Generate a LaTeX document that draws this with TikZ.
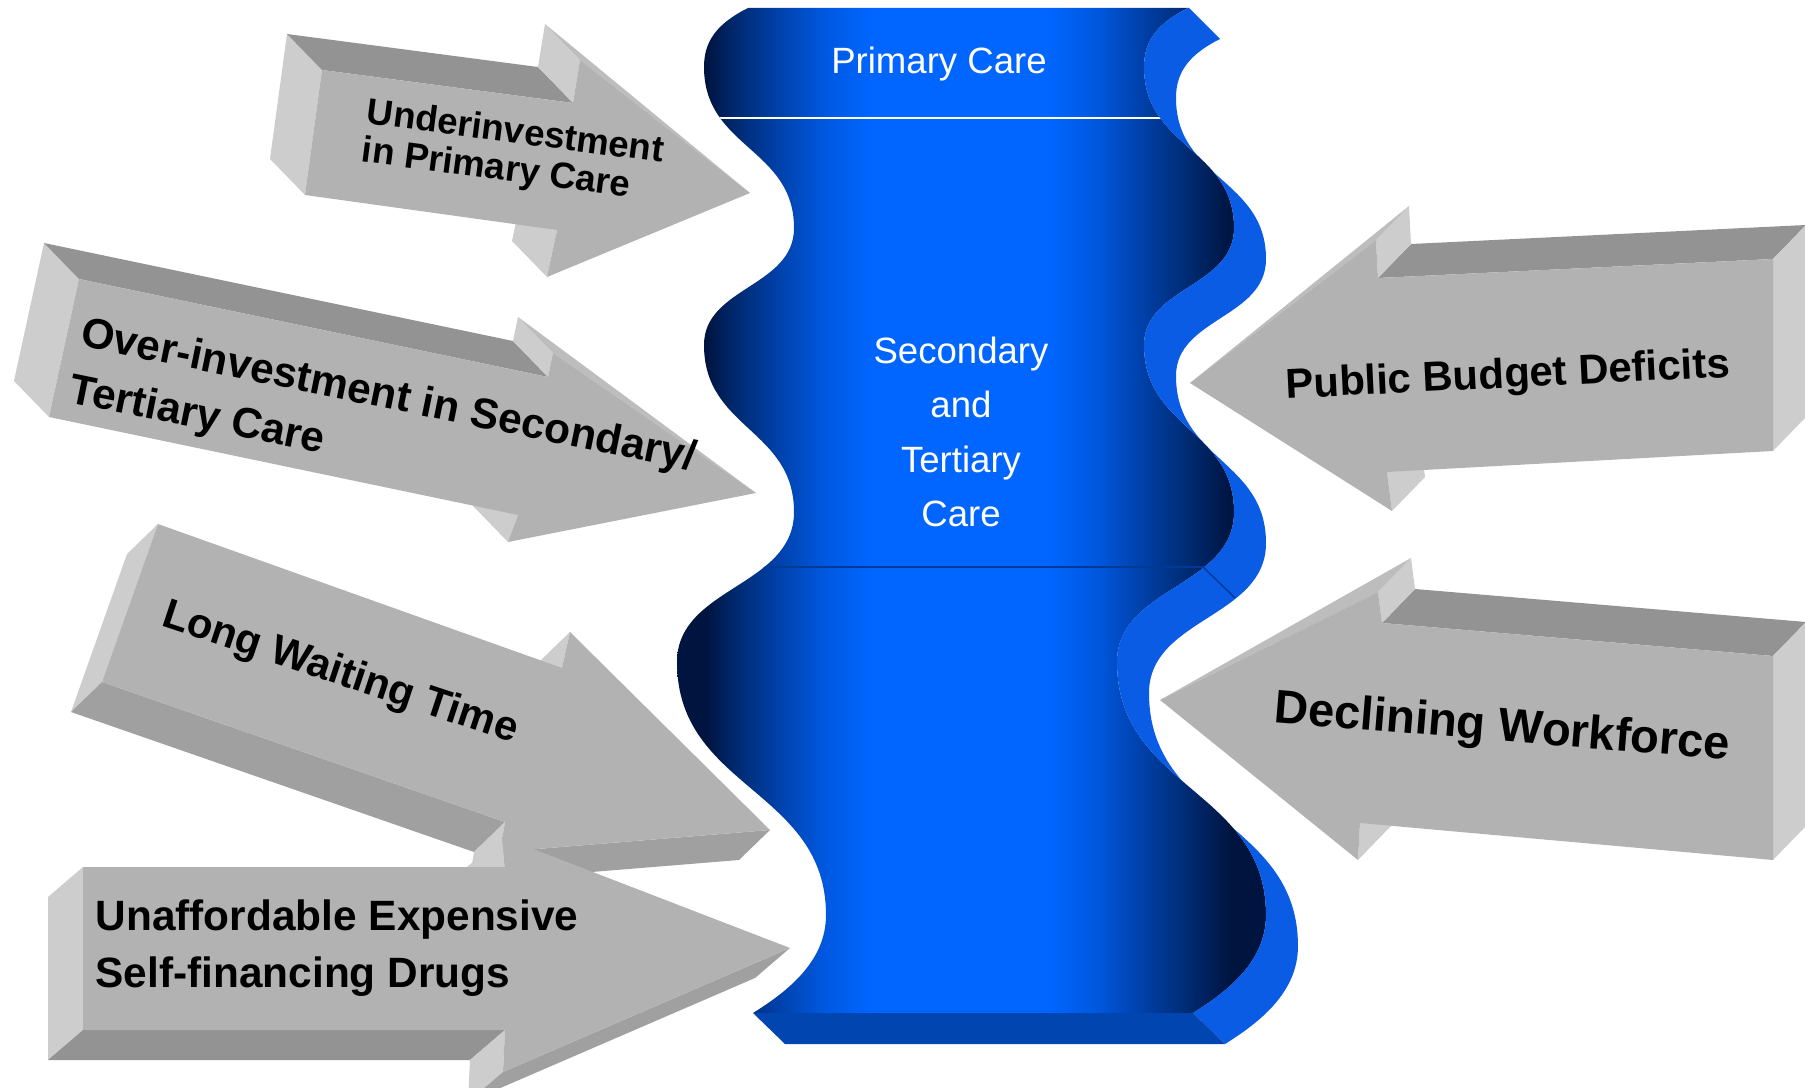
\documentclass[tikz,border=0pt]{standalone}
\usepackage{fontspec}
\setmainfont{Liberation Sans}
\usetikzlibrary{calc}
\definecolor{colbright}{HTML}{0066FF}
\definecolor{coldark}{HTML}{001440}
\definecolor{colmidA}{HTML}{002A70}
\definecolor{colmidB}{HTML}{0040A8}
\definecolor{colmidC}{HTML}{0058E0}
\definecolor{colside}{HTML}{0A5CE4}
\definecolor{colbase}{HTML}{0045B0}
\definecolor{arrowfront}{HTML}{B2B2B2}
\definecolor{arrowtop}{HTML}{939393}
\definecolor{arrowlight}{HTML}{CDCDCD}
\definecolor{arrowbottom}{HTML}{A0A0A0}
\definecolor{arrowbevel}{HTML}{BDBDBD}
\pgfdeclarehorizontalshading{colshade}{100bp}{color(0bp)=(coldark); color(25bp)=(coldark);
  color(27.5bp)=(coldark); color(30bp)=(colmidA); color(33.5bp)=(colmidB);
  color(37.5bp)=(colmidC); color(41.5bp)=(colbright); color(56.5bp)=(colbright);
  color(60.5bp)=(colmidC); color(64.5bp)=(colmidB); color(68.5bp)=(colmidA);
  color(72bp)=(coldark); color(100bp)=(coldark)}
\tikzset{coltext/.style = {text=white, inner sep=0pt,
                           font=\fontsize{10.4}{15.4}\selectfont}}
\tikzset{arrowtext/.style = {text=black, inner sep=0pt, align=left}}
\newcommand{\colwave}{(748, 8) .. controls (716, 24) and (704, 42) .. (704, 67)
  .. controls (704, 148) and (794, 148) .. (794, 228)
  .. controls (794, 287) and (704, 287) .. (704, 345)
  .. controls (704, 429) and (794, 429) .. (794, 512)
  .. controls (794, 587) and (677, 587) .. (677, 662)
  .. controls (677, 789) and (826, 789) .. (826, 915)
  .. controls (826, 960) and (790, 990) .. (753, 1013)}
\newcommand{\sideface}[4]{\fill [#4] (#1) -- (#2) -- ($(#2)+(#3)$) -- ($(#1)+(#3)$) -- cycle;}

\begin{document}
\begin{tikzpicture}[x=0.01cm, y=-0.01cm]
      \useasboundingbox (0, 0) rectangle (1805, 1088);

      % column, front face
      \begin{scope}
        \clip \colwave -- (2000, 1013) -- (2000, 8) -- cycle;
        \clip [shift={(440, 0)}] \colwave -- (-800, 1013) -- (-800, 8) -- cycle;
        \shade [shading=colshade] (677, 0) rectangle (1266, 1100);
        \draw [white, line width=0.6pt] (600, 118) -- (1300, 118);
        \draw [coldark!55!colbright, line width=0.4pt] (600, 567) -- (1300, 567);
      \end{scope}

      % column, side and base
      \begin{scope}
        \clip [shift={(440, 0)}] \colwave -- ++(32, 31) -- (2000, 1044) -- (2000, 8) -- cycle;
        \clip [shift={(472, 31)}] \colwave -- (-1000, 1013) -- (-1000, -192) -- (548, -192) -- cycle;
        \fill [colside] (1000, 0) rectangle (1400, 1100);
        \draw [coldark!55!colbright, line width=0.4pt] (1203, 567) -- (1235, 598);
      \end{scope}
      \fill [colbase] (753, 1013) -- (1193, 1013) -- (1225, 1044) -- (785, 1044) -- cycle;

      \node [coltext] (primary) at (939, 64) {Primary Care};
      \node [coltext, align=center] (secondary) at (961, 432) {Secondary\\and\\Tertiary\\Care};

      % Underinvestment
      \coordinate (u1) at (322, 70);
      \coordinate (u2) at (573, 103);
      \coordinate (u3) at (580, 60);
      \coordinate (u4) at (750, 193);
      \coordinate (u5) at (547, 277);
      \coordinate (u6) at (557, 230);
      \coordinate (u7) at (305, 195);
      \sideface{u7}{u1}{-35, -36}{arrowlight}
      \sideface{u1}{u2}{-35, -36}{arrowtop}
      \sideface{u2}{u3}{-35, -36}{arrowlight}
      \sideface{u6}{u5}{-35, -36}{arrowlight}
      \fill [arrowbevel] (u3) -- ($(u3)+(-35, -36)$) -- (u4) -- cycle;
      \fill [arrowfront] (u1) -- (u2) -- (u3) -- (u4) -- (u5) -- (u6) -- (u7) -- cycle;
      \node [arrowtext, rotate=-7.5, anchor=west,
             font=\bfseries\fontsize{10.4}{10.9}\selectfont] (under) at (364, 133)
            {Underinvestment\\in Primary Care};

      % Over-investment
      \coordinate (o1) at (79, 279);
      \coordinate (o2) at (548, 377);
      \coordinate (o3) at (553, 353);
      \coordinate (o4) at (756, 493);
      \coordinate (o5) at (508, 542);
      \coordinate (o6) at (518, 515);
      \coordinate (o7) at (49, 417);
      \sideface{o7}{o1}{-35, -36}{arrowlight}
      \sideface{o1}{o2}{-35, -36}{arrowtop}
      \sideface{o2}{o3}{-35, -36}{arrowlight}
      \sideface{o6}{o5}{-35, -36}{arrowlight}
      \fill [arrowbevel] (o3) -- ($(o3)+(-35, -36)$) -- (o4) -- cycle;
      \fill [arrowfront] (o1) -- (o2) -- (o3) -- (o4) -- (o5) -- (o6) -- (o7) -- cycle;
      \node [arrowtext, rotate=-11.5, anchor=west,
             font=\bfseries\fontsize{12.1}{16.3}\selectfont] (over) at (75, 363)
            {Over-investment in Secondary/\\Tertiary Care};

      % Long Waiting Time
      \coordinate (l1) at (158, 524);
      \coordinate (l2) at (562, 668);
      \coordinate (l3) at (570, 632);
      \coordinate (l4) at (770, 830);
      \coordinate (l5) at (500, 852);
      \coordinate (l6) at (505, 822);
      \coordinate (l7) at (102, 682);
      \sideface{l1}{l7}{-31, 30}{arrowlight}
      \sideface{l7}{l6}{-31, 30}{arrowbottom}
      \sideface{l6}{l5}{-31, 30}{arrowlight}
      \sideface{l5}{l4}{-31, 30}{arrowbottom}
      \sideface{l2}{l3}{-31, 30}{arrowlight}
      \fill [arrowfront] (l1) -- (l2) -- (l3) -- (l4) -- (l5) -- (l6) -- (l7) -- cycle;
      \node [arrowtext, rotate=-18.4,
             font=\bfseries\fontsize{11.9}{14}\selectfont] (waiting) at (340, 674)
            {Long Waiting Time};

      % Unaffordable drugs
      \coordinate (w1) at (83, 867);
      \coordinate (w2) at (505, 867);
      \coordinate (w3) at (502, 837);
      \coordinate (w4) at (790, 948);
      \coordinate (w5) at (503, 1072);
      \coordinate (w6) at (505, 1030);
      \coordinate (w7) at (83, 1030);
      \sideface{w1}{w7}{-35, 30}{arrowlight}
      \sideface{w7}{w6}{-35, 30}{arrowtop}
      \sideface{w6}{w5}{-35, 30}{arrowlight}
      \sideface{w5}{w4}{-35, 30}{arrowbottom}
      \sideface{w2}{w3}{-35, 30}{arrowlight}
      \fill [arrowfront] (w1) -- (w2) -- (w3) -- (w4) -- (w5) -- (w6) -- (w7) -- cycle;
      \node [arrowtext, anchor=west,
             font=\bfseries\fontsize{12.05}{16.2}\selectfont] (drugs) at (95, 948)
            {Unaffordable Expensive\\Self-financing Drugs};

      % Public Budget Deficits
      \coordinate (p1) at (1773, 259);
      \coordinate (p2) at (1378, 278);
      \coordinate (p3) at (1376, 240);
      \coordinate (p4) at (1190, 383);
      \coordinate (p5) at (1392, 511);
      \coordinate (p6) at (1387, 472);
      \coordinate (p7) at (1773, 451);
      \sideface{p1}{p2}{33, -34}{arrowtop}
      \sideface{p7}{p1}{33, -34}{arrowlight}
      \sideface{p2}{p3}{33, -34}{arrowlight}
      \sideface{p6}{p5}{33, -34}{arrowlight}
      \fill [arrowbevel] (p3) -- ($(p3)+(33, -34)$) -- (p4) -- cycle;
      \fill [arrowfront] (p1) -- (p2) -- (p3) -- (p4) -- (p5) -- (p6) -- (p7) -- cycle;
      \node [arrowtext, rotate=2.8,
             font=\bfseries\fontsize{11.9}{14}\selectfont] (budget) at (1508, 377)
            {Public Budget Deficits};

      % Declining Workforce
      \coordinate (q1) at (1773, 656);
      \coordinate (q2) at (1382, 623);
      \coordinate (q3) at (1378, 592);
      \coordinate (q4) at (1160, 700);
      \coordinate (q5) at (1358, 860);
      \coordinate (q6) at (1360, 823);
      \coordinate (q7) at (1773, 860);
      \sideface{q1}{q2}{33, -34}{arrowtop}
      \sideface{q7}{q1}{33, -34}{arrowlight}
      \sideface{q2}{q3}{33, -34}{arrowlight}
      \sideface{q6}{q5}{33, -34}{arrowlight}
      \fill [arrowbevel] (q3) -- ($(q3)+(33, -34)$) -- (q4) -- cycle;
      \fill [arrowfront] (q1) -- (q2) -- (q3) -- (q4) -- (q5) -- (q6) -- (q7) -- cycle;
      \node [arrowtext, rotate=-4.7,
             font=\bfseries\fontsize{13.4}{16}\selectfont] (workforce) at (1502, 729)
            {Declining Workforce};
    \end{tikzpicture}
\end{document}
